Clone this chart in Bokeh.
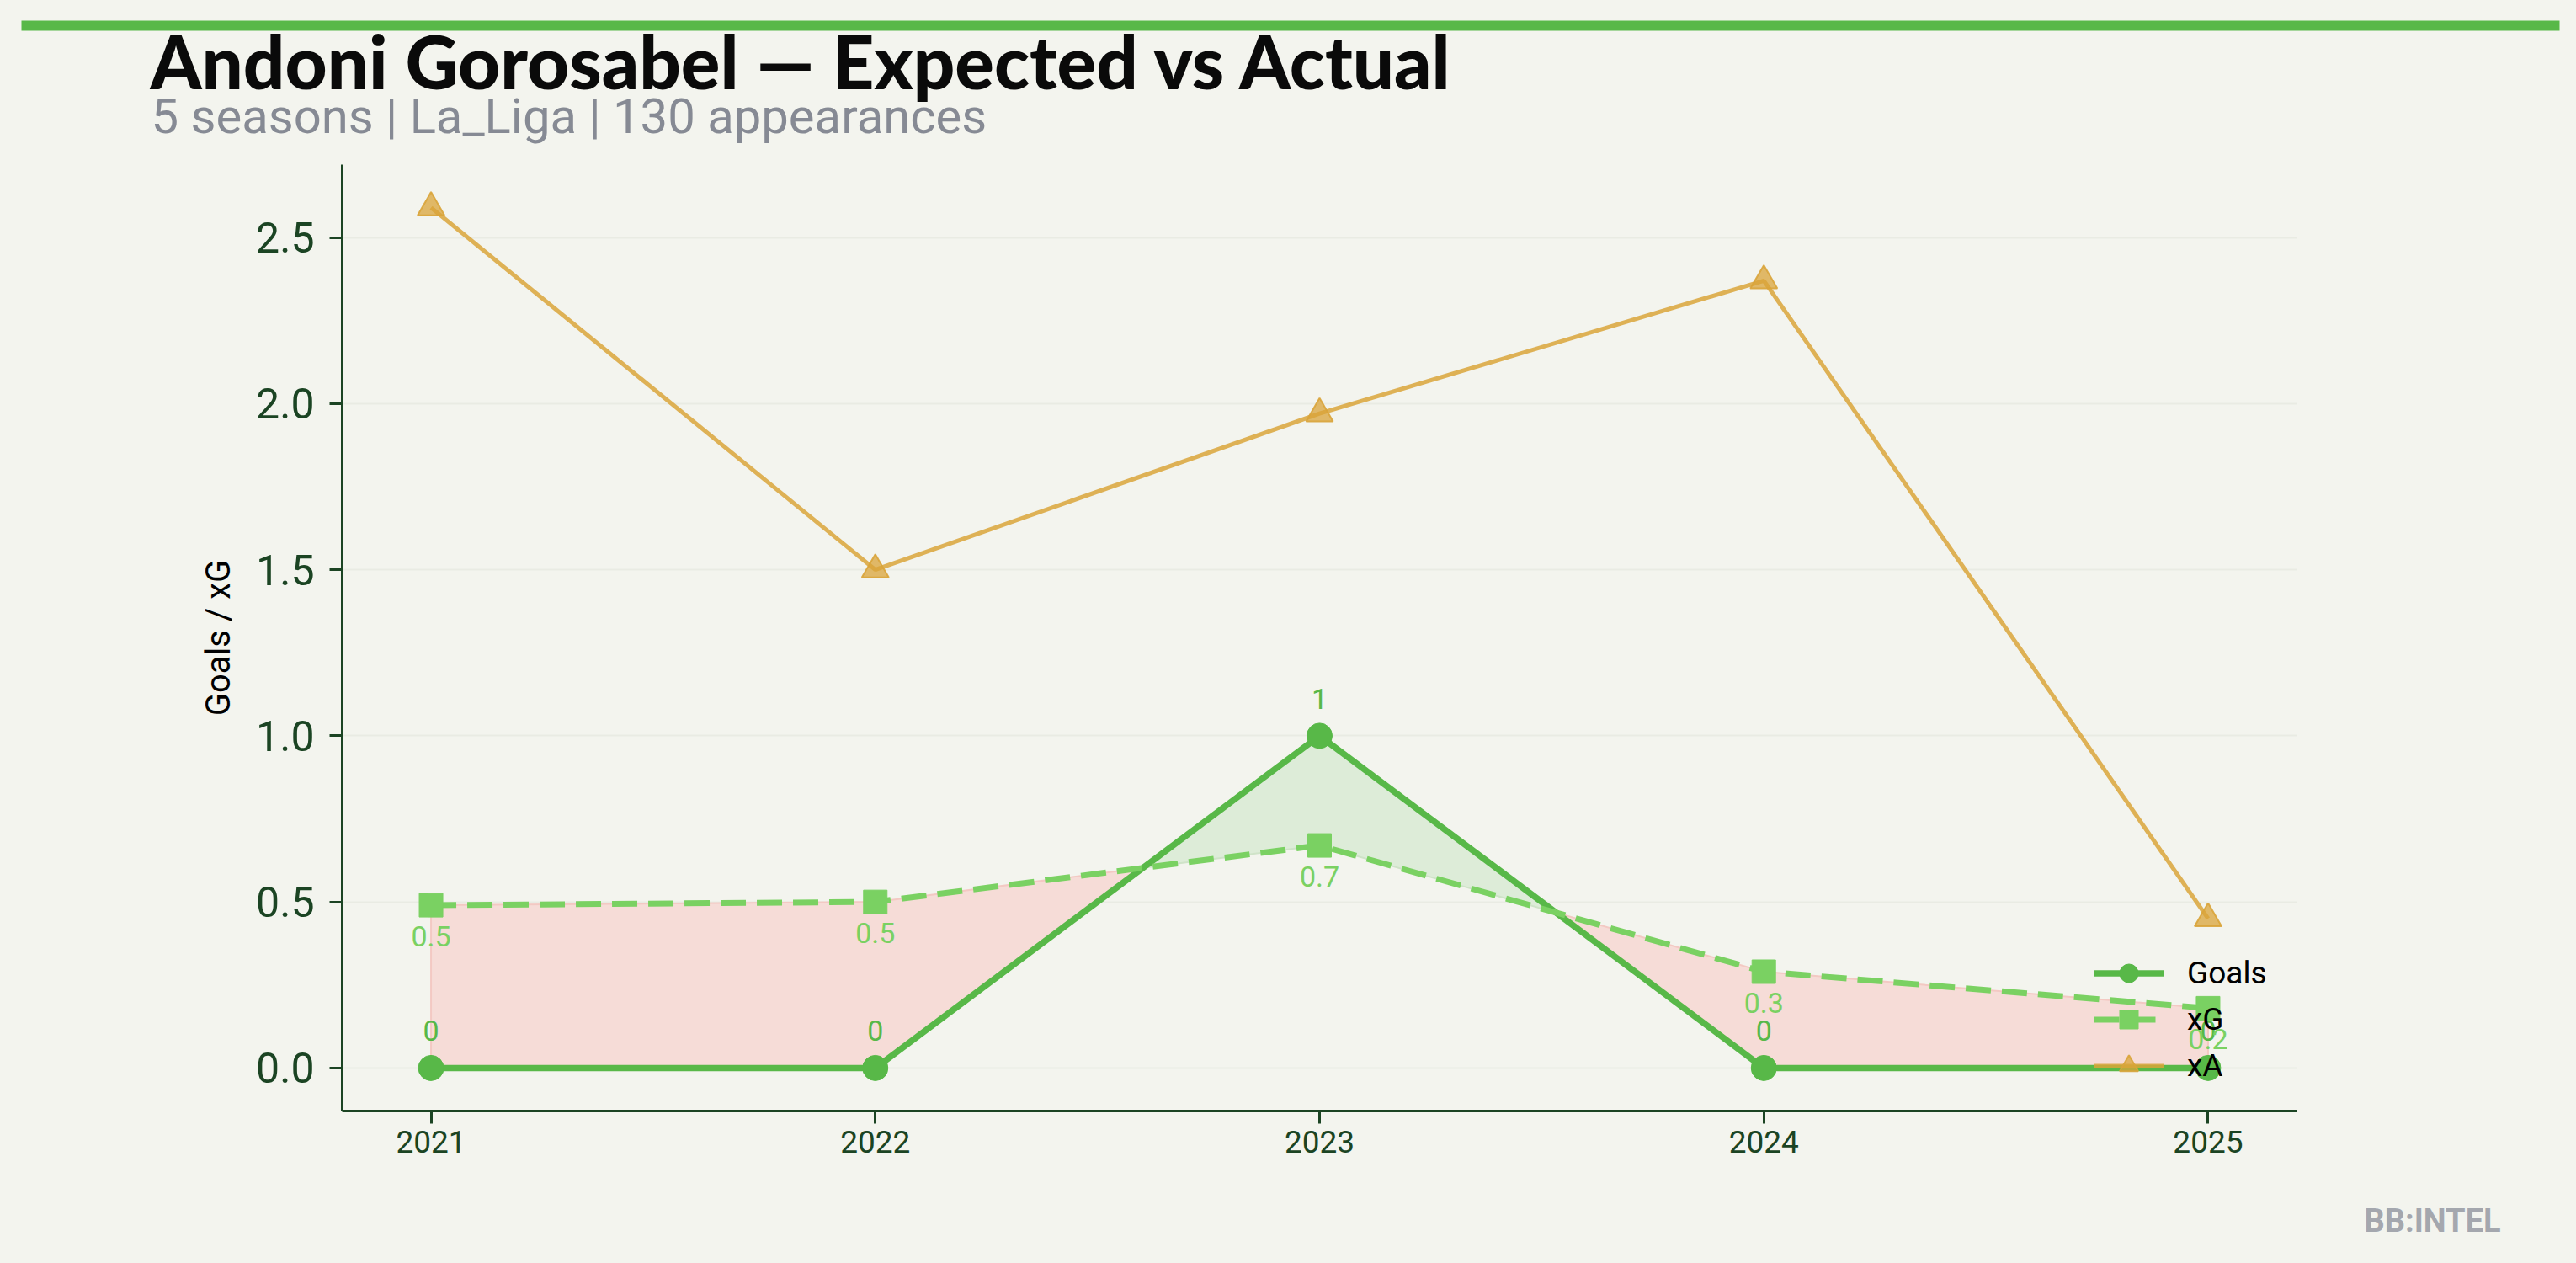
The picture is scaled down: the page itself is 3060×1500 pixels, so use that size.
from bokeh.plotting import figure
from bokeh.models import (Range1d, FixedTicker, SingleIntervalTicker, PrintfTickFormatter,
                          Legend, LegendItem)
from bokeh.embed import file_html
from bokeh.resources import INLINE
from bokeh.core.properties import value

# ---------------- data ----------------
seasons = [2021, 2022, 2023, 2024, 2025]
goals = [0, 0, 1, 0, 0]
xg = [0.49, 0.50, 0.67, 0.29, 0.18]
xa = [2.59, 1.50, 1.97, 2.37, 0.45]

TITLE = "Andoni Gorosabel \u2014 Expected vs Actual"
SUBTITLE = "5 seasons | La_Liga | 130 appearances"
Y_LABEL = "Goals / xG"
WATERMARK = "BB:INTEL"
series_names = ["Goals", "xG", "xA"]

# ---------------- style ----------------
BG = "#f3f4ee"
GOALS = "#58b848"
XG = "#7ad162"
XA = "#d9a43a"
AXIS = "#1b4423"
FONT = "Roboto"

W = 3060
HEAD_H = 188
MAIN_H = 1212
FOOT_H = 100


def blank(height):
    f = figure(width=W, height=height, x_range=Range1d(0, W), y_range=Range1d(height, 0),
               output_backend="svg", toolbar_location=None, min_border=0,
               x_axis_location=None, y_axis_location=None)
    f.grid.visible = False
    f.outline_line_color = None
    f.background_fill_color = BG
    f.border_fill_color = BG
    return f


# ---------------- header ----------------
head = blank(HEAD_H)
head.quad(left=[25], right=[3040], top=[24], bottom=[36], fill_color=GOALS, line_color=None)
head.text(x=[178], y=[72], text=[TITLE], text_font=value("'Lato Black', Lato"),
          text_font_style="bold", text_font_size="87px", text_color="#0a0a0a",
          text_baseline="middle")
head.text(x=[179], y=[137], text=[SUBTITLE], text_font=value(FONT),
          text_font_size="58px", text_color="#868a94", text_baseline="middle")

# ---------------- main ----------------
allv = goals + xg + xa
ymin, ymax = min(allv), max(allv)
pad = 0.05 * (ymax - ymin)
xpad = 0.05 * (seasons[-1] - seasons[0])

p = figure(width=W, height=MAIN_H,
           x_range=Range1d(seasons[0] - xpad, seasons[-1] + xpad),
           y_range=Range1d(ymin - pad, ymax + pad),
           output_backend="svg", toolbar_location=None,
           min_border_left=406, min_border_right=332, min_border_top=7, min_border_bottom=81)
p.background_fill_color = BG
p.border_fill_color = BG
p.outline_line_color = None
p.xgrid.visible = False
p.ygrid.grid_line_color = "#e9ebe3"
p.ygrid.grid_line_width = 2

# fill between goals and xG
pts = []
for i in range(len(seasons)):
    pts.append((seasons[i], goals[i], xg[i]))
    if i < len(seasons) - 1:
        d0 = goals[i] - xg[i]
        d1 = goals[i + 1] - xg[i + 1]
        if d0 * d1 < 0:
            t = d0 / (d0 - d1)
            xc = seasons[i] + t * (seasons[i + 1] - seasons[i])
            yc = goals[i] + t * (goals[i + 1] - goals[i])
            pts.append((xc, yc, yc))
regions = []
cur = [pts[0]]
for pt in pts[1:]:
    cur.append(pt)
    if pt[1] == pt[2]:
        regions.append(cur)
        cur = [pt]
if len(cur) > 1:
    regions.append(cur)
for reg in regions:
    over = sum(a[1] - a[2] for a in reg) > 0
    xs = [a[0] for a in reg] + [a[0] for a in reversed(reg)]
    ys = [a[1] for a in reg] + [a[2] for a in reversed(reg)]
    p.patch(xs, ys, fill_color="#ddecd8" if over else "#f6dcd7",
            line_color="#cfe3c8" if over else "#f3c9c3", line_width=2)

r_g_line = p.line(seasons, goals, line_color=GOALS, line_width=7.5)
r_g_pts = p.scatter(seasons, goals, marker="circle", size=30, fill_color=GOALS, line_color=GOALS)
r_x_line = p.line(seasons, xg, line_color=XG, line_width=7, line_dash="30 13")
r_x_pts = p.scatter(seasons, xg, marker="square", size=28, fill_color=XG, line_color=XG)
r_a_line = p.line(seasons, xa, line_color=XA, line_alpha=0.85, line_width=5)
r_a_pts = p.scatter(seasons, xa, marker="triangle", size=32, fill_color=XA, fill_alpha=0.75,
                    line_color=XA, line_alpha=0.9, line_width=2)

p.text(seasons, goals, text=[f"{v:g}" for v in goals], y_offset=-44, text_align="center",
       text_baseline="middle", text_color=GOALS, text_font_size="34px", text_font=value(FONT))
p.text(seasons, xg, text=[f"{v:.1f}" for v in xg], y_offset=37, text_align="center",
       text_baseline="middle", text_color=XG, text_font_size="34px", text_font=value(FONT))

# axes
for ax in (p.xaxis[0], p.yaxis[0]):
    ax.axis_line_color = AXIS
    ax.axis_line_width = 3
    ax.major_tick_line_color = AXIS
    ax.major_tick_line_width = 3
    ax.major_tick_out = 15
    ax.major_tick_in = 0
    ax.minor_tick_line_color = None
    ax.major_label_text_color = AXIS
    ax.major_label_text_font = FONT
p.xaxis.ticker = FixedTicker(ticks=seasons)
p.xaxis.formatter = PrintfTickFormatter(format="%d")
p.xaxis.major_label_text_font_size = "37px"
p.xaxis.major_label_standoff = 8
p.yaxis.ticker = SingleIntervalTicker(interval=0.5)
p.yaxis.formatter = PrintfTickFormatter(format="%.1f")
p.yaxis.major_label_text_font_size = "50px"
p.yaxis.major_label_standoff = 18
p.yaxis.axis_label = Y_LABEL
p.yaxis.axis_label_text_font = FONT
p.yaxis.axis_label_text_font_style = "normal"
p.yaxis.axis_label_text_font_size = "40px"
p.yaxis.axis_label_text_color = "#000000"
p.yaxis.axis_label_standoff = 18

legend = Legend(items=[
    LegendItem(label=series_names[0], renderers=[r_g_line, r_g_pts]),
    LegendItem(label=series_names[1], renderers=[r_x_line, r_x_pts]),
    LegendItem(label=series_names[2], renderers=[r_a_line, r_a_pts]),
], location=(2081, 26))
legend.background_fill_alpha = 0
legend.border_line_alpha = 0
legend.padding = 0
legend.margin = 0
legend.spacing = 0
legend.glyph_width = 83
legend.glyph_height = 55
legend.label_height = 55
legend.label_standoff = 28
legend.label_text_font = FONT
legend.label_text_font_size = "37px"
legend.label_text_color = "#000000"
p.add_layout(legend)

# ---------------- footer ----------------
foot = blank(FOOT_H)
foot.text(x=[2808], y=[49], text=[WATERMARK], text_font=value(FONT), text_font_style="bold",
          text_font_size="38px", text_color="#a4a7ae", text_baseline="middle")

html = file_html([head, p, foot], INLINE)
idx = html.rfind("<body")
end = html.index(">", idx) + 1
style = ("<style>html,body{background-color:#f3f4ee !important;margin:0;}"
         "body>div{display:block;line-height:0;}</style>")
html = html[:idx] + '<body style="background-color:#f3f4ee;margin:0;">' + style + html[end:]
open("out.html", "w").write(html)
